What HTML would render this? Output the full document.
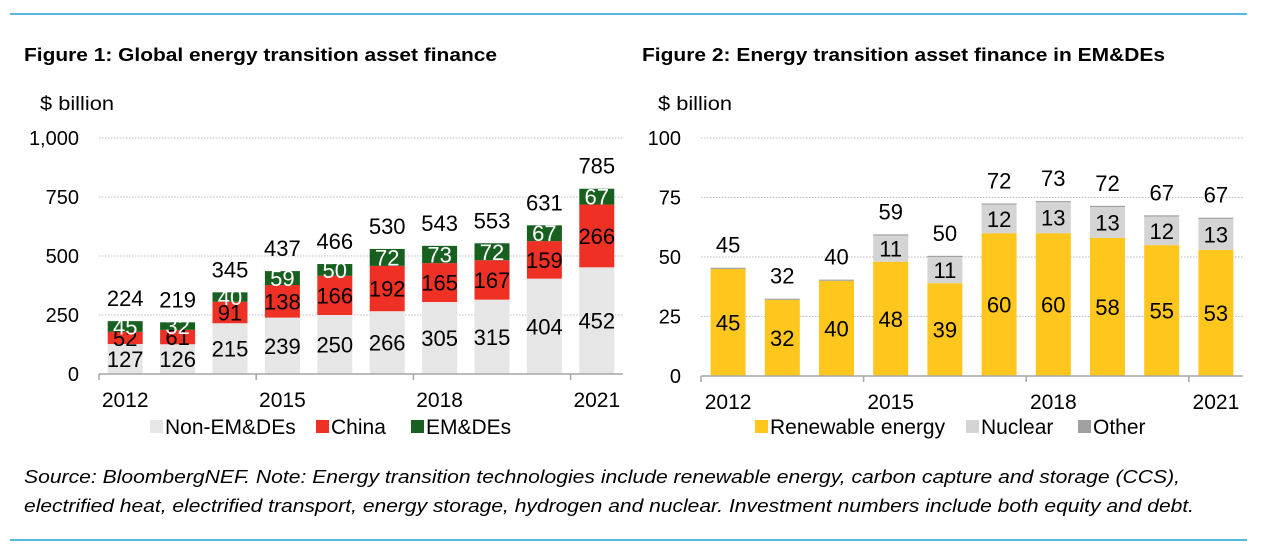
<!DOCTYPE html>
<html><head><meta charset="utf-8"><style>
body{margin:0;background:#fff;width:1277px;height:546px;overflow:hidden;font-family:"Liberation Sans",Arial,sans-serif}
svg{display:block}
</style></head><body>
<svg id="s" width="1277" height="546" font-family="Liberation Sans, Arial, sans-serif">
<line x1="10" y1="14" x2="1247" y2="14" stroke="#1aa3d4" stroke-width="1.5"/>
<line x1="10" y1="540" x2="1247" y2="540" stroke="#1aa3d4" stroke-width="1.5"/>
<text x="24" y="61" font-size="18" font-weight="bold" textLength="473" lengthAdjust="spacingAndGlyphs">Figure 1: Global energy transition asset finance</text>
<text x="642" y="61" font-size="18" font-weight="bold" textLength="523" lengthAdjust="spacingAndGlyphs">Figure 2: Energy transition asset finance in EM&amp;DEs</text>
<text x="40" y="110" font-size="19" textLength="74" lengthAdjust="spacingAndGlyphs">$ billion</text>
<text x="658" y="110" font-size="19" textLength="74" lengthAdjust="spacingAndGlyphs">$ billion</text>
<text x="24" y="483" font-size="18" font-style="italic" textLength="1156" lengthAdjust="spacingAndGlyphs">Source: BloombergNEF. Note: Energy transition technologies include renewable energy, carbon capture and storage (CCS),</text>
<text x="24" y="512" font-size="18" font-style="italic" textLength="1170" lengthAdjust="spacingAndGlyphs">electrified heat, electrified transport, energy storage, hydrogen and nuclear. Investment numbers include both equity and debt.</text>
<g id="c1"></g>
<g id="c2"></g>
</svg>
<script>
const years=["2012","2013","2014","2015","2016","2017","2018","2019","2020","2021"];
const nonEm=[127,126,215,239,250,266,305,315,404,452];
const china=[52,61,91,138,166,192,165,167,159,266];
const emde=[45,32,40,59,50,72,73,72,67,67];
const totals1=[224,219,345,437,466,530,543,553,631,785];
const ticks1=[0,250,500,750,1000];
const tickLabels1=["0","250","500","750","1,000"];
const renew=[45,32,40,48,39,60,60,58,55,53];
const nuclear=[0,0,0,11,11,12,13,13,12,13];
const other=[0.5,0.5,0.5,0.5,0.5,0.5,0.5,0.5,0.5,0.5];
const totals2=[45,32,40,59,50,72,73,72,67,67];
const ticks2=[0,25,50,75,100];
const tickLabels2=["0","25","50","75","100"];
const yearLabelIdx=[0,3,6,9];
const NS="http://www.w3.org/2000/svg";
function mk(p,t,a){const e=document.createElementNS(NS,t);for(const k in a)e.setAttribute(k,a[k]);p.appendChild(e);return e;}
function chart(g,cfg){
  const {x0,x1,y0,y1,max,series,colors,labelColors,showLbl,totals,ticks,tl,names,tickLabelX,legend}=cfg;
  const y=v=>y0-(v/max)*(y0-y1);
  const step=(x1-x0)/years.length, bw=cfg.bw;
  ticks.forEach((t,i)=>{
    if(t>0){const l=mk(g,'line',{x1:x0,x2:x1,y1:y(t),y2:y(t),stroke:'#bdbdbd','stroke-dasharray':'1.5,1.5'});
    
    }
    const tx=mk(g,'text',{x:tickLabelX,y:y(t)+7,'font-size':20,'text-anchor':'end'});tx.textContent=tl[i];
    
    
  });
  years.forEach((yr,i)=>{
    const cx=x0+step*(i+0.5);let acc=0;
    series.forEach((s,k)=>{
      const v=s[i];if(v<=0)return;
      const r=mk(g,'rect',{x:cx-bw/2,y:y(acc+v),width:bw,height:y(acc)-y(acc+v),fill:colors[k]});
      
      
      if(showLbl[k]){const t=mk(g,'text',{x:cx,y:(y(acc)+y(acc+v))/2+8,'font-size':22,'text-anchor':'middle',fill:labelColors[k]});t.textContent=v;
        
        }
      acc+=v;
    });
    const tt=mk(g,'text',{x:cx,y:y(acc)-15,'font-size':22,'text-anchor':'middle'});tt.textContent=totals[i];
    
    
  });
  const ax=mk(g,'line',{x1:x0,x2:x1,y1:y0,y2:y0,stroke:'#a6a6a6','stroke-width':1.5});
  
  
  [0,3,6,9].forEach(j=>{const xx=x0+step*j;const l=mk(g,'line',{x1:xx,x2:xx,y1:y0,y2:y0+6,stroke:'#a6a6a6','stroke-width':1.5});
    
    });
  yearLabelIdx.forEach(j=>{const t=mk(g,'text',{x:x0+step*(j+0.5),y:y0+33,'font-size':21,'text-anchor':'middle'});t.textContent=years[j];
    
    });
  legend.forEach(L=>{
    const r=mk(g,'rect',{x:L.x,y:420,width:13,height:13,fill:L.c});
    
    
    const t=mk(g,'text',{x:L.x+15,y:434,'font-size':21});t.textContent=L.t;
    
    
  });
}
chart(document.getElementById('c1'),{x0:99,x1:623,y0:374,y1:138,max:1000,bw:35,series:[nonEm,china,emde],
 colors:['#e6e6e6','#ee3124','#17601f'],labelColors:['#000','#000','#fff'],showLbl:[1,1,1],totals:totals1,ticks:ticks1,tl:tickLabels1,
 names:['non-emdes','china','emdes'],tickLabelX:79,
 legend:[{x:150,c:'#e6e6e6',t:'Non-EM&DEs'},{x:316,c:'#ee3124',t:'China'},{x:411,c:'#17601f',t:'EM&DEs'}]});
chart(document.getElementById('c2'),{x0:701,x1:1243,y0:376,y1:138,max:100,bw:35,series:[renew,nuclear,other],
 colors:['#ffc61e','#d4d4d4','#a0a0a0'],labelColors:['#000','#000','#000'],showLbl:[1,1,0],totals:totals2,ticks:ticks2,tl:tickLabels2,
 names:['renewable','nuclear','other'],tickLabelX:681,
 legend:[{x:755,c:'#ffc61e',t:'Renewable energy'},{x:966,c:'#d4d4d4',t:'Nuclear'},{x:1078,c:'#a0a0a0',t:'Other'}]});
</script>
</body></html>
